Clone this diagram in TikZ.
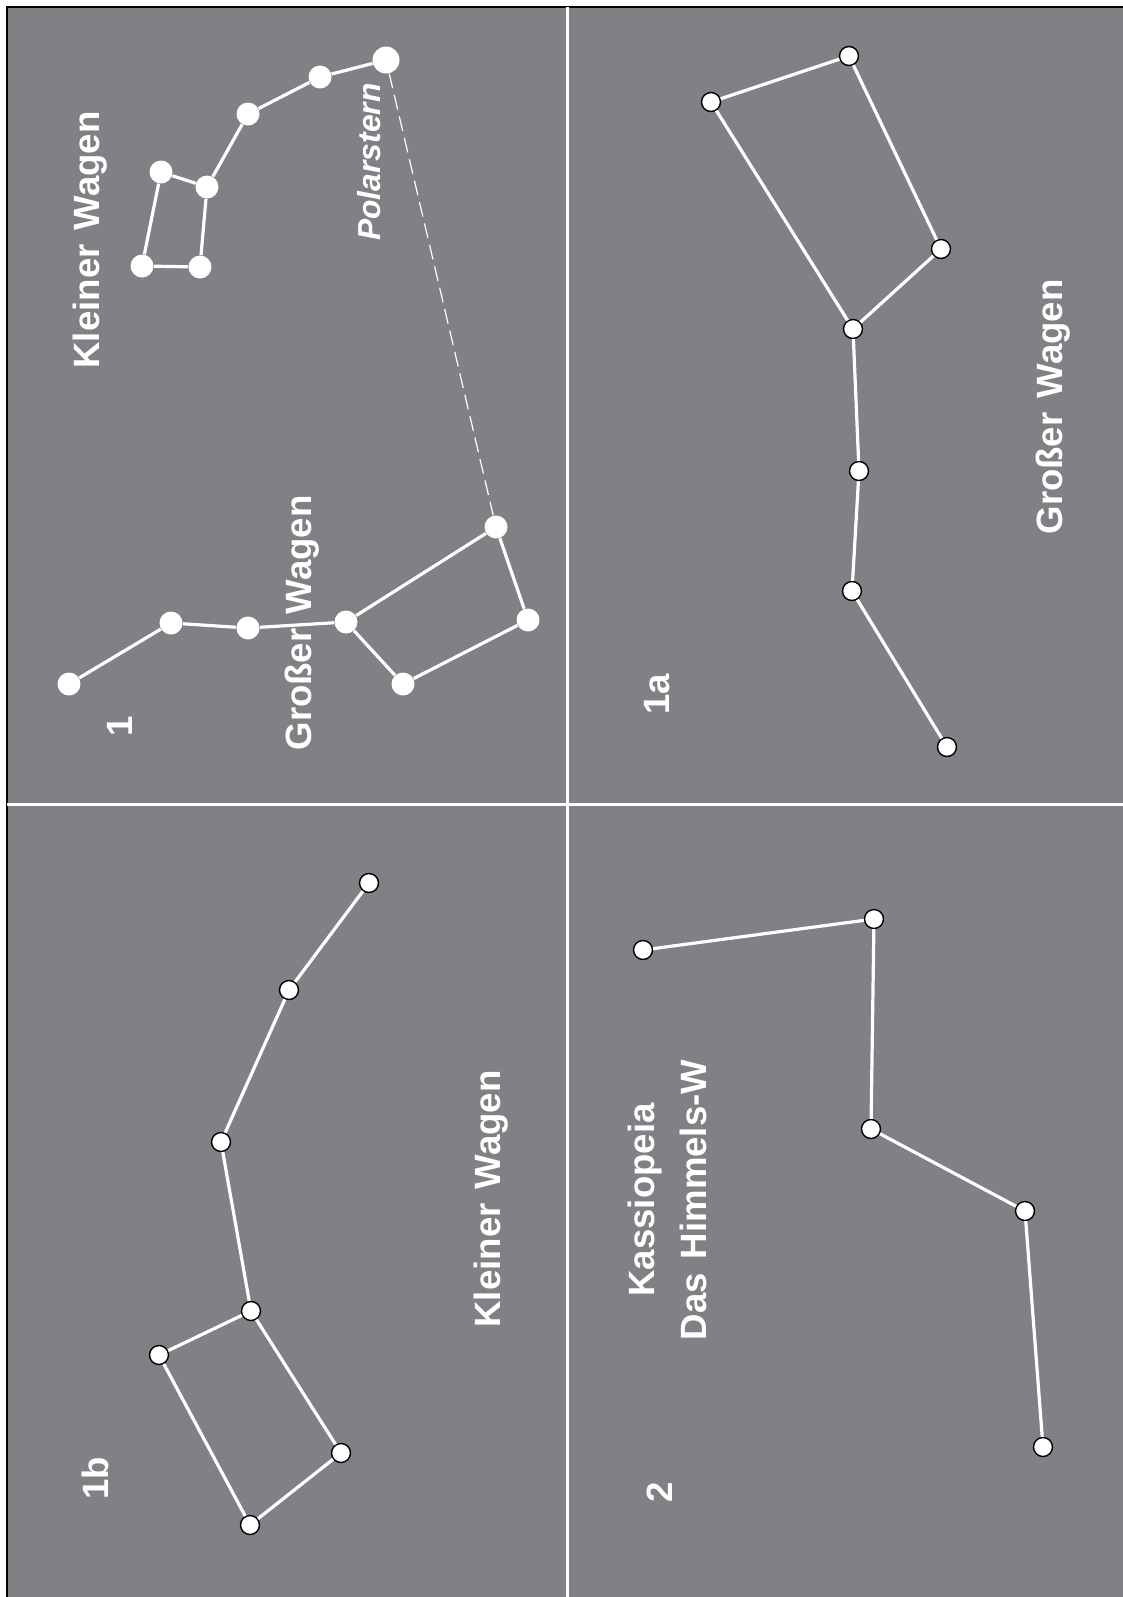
\documentclass[tikz,border=0pt]{standalone}
\usepackage{fontspec}
\setmainfont{Liberation Sans}[WordSpace=1.4]
\definecolor{skygray}{RGB}{128,129,132}
\begin{document}
\begin{tikzpicture}[x=0.5pt,y=-0.5pt,
  dot/.style={circle,fill=white,inner sep=0pt,minimum size=11.5pt},
  pole/.style={dot,minimum size=13.5pt},
  ring/.style={circle,fill=white,draw=black,line width=0.7pt,inner sep=0pt,minimum size=9.5pt},
  link/.style={white,line width=1.6pt},
  guide/.style={white,line width=0.6pt,dash pattern=on 7.5pt off 3.5pt},
  caption/.style={rotate=90,text=white,align=center,font=\bfseries\fontsize{18.3}{26}\selectfont}]
\useasboundingbox (0,0) rectangle (1123,1597);
\fill[skygray] (7,7) rectangle (1123,1597);
\draw[line width=0.8pt] (7,1597) -- (7,7) -- (1123,7);
\draw[white,line width=1.5pt] (567,7) -- (567,1597);
\draw[white,line width=1.5pt] (7,804) -- (1123,804);
% 1: Grosser und Kleiner Wagen
\node[dot] (a1) at (69,684) {};
\node[dot] (a2) at (171,623) {};
\node[dot] (a3) at (248,628) {};
\node[dot] (a4) at (346,622) {};
\node[dot] (a5) at (403,684) {};
\node[dot] (a6) at (528,620) {};
\node[dot] (a7) at (496,527) {};
\node[pole] (p) at (386,60) {};
\node[dot] (b2) at (320,77) {};
\node[dot] (b3) at (248,114) {};
\node[dot] (b4) at (207,187) {};
\node[dot] (b5) at (161,172) {};
\node[dot] (b6) at (142,266) {};
\node[dot] (b7) at (200,267) {};
\draw[link] (a1) -- (a2) -- (a3) -- (a4) -- (a5) -- (a6) -- (a7) -- (a4);
\draw[link] (p) -- (b2) -- (b3) -- (b4) -- (b5) -- (b6) -- (b7) -- (b4);
\draw[guide] (p) -- (a7);
\node[caption] (t1) at (120,726) {1};
\node[caption] (gw1) at (302,623) {Großer Wagen};
\node[caption] (kw1) at (90,240) {Kleiner Wagen};
\node[caption,font=\bfseries\itshape\fontsize{15.9}{20}\selectfont] (ps) at (369,162) {Polarstern};
% 1a: Grosser Wagen
\node[ring] (c1) at (849,56) {};
\node[ring] (c2) at (711,102) {};
\node[ring] (c3) at (941,249) {};
\node[ring] (c4) at (853,329) {};
\node[ring] (c5) at (859,471) {};
\node[ring] (c6) at (852,591) {};
\node[ring] (c7) at (947,747) {};
\draw[link] (c7) -- (c6) -- (c5) -- (c4) -- (c2) -- (c1) -- (c3) -- (c4);
\node[caption] (t1a) at (657,694) {1a};
\node[caption] (gw1a) at (1053,407) {Großer Wagen};
% 1b: Kleiner Wagen
\node[ring] (d1) at (369,883) {};
\node[ring] (d2) at (289,990) {};
\node[ring] (d3) at (221,1142) {};
\node[ring] (d4) at (251,1311) {};
\node[ring] (d5) at (159,1355) {};
\node[ring] (d6) at (250,1525) {};
\node[ring] (d7) at (341,1453) {};
\draw[link] (d1) -- (d2) -- (d3) -- (d4) -- (d5) -- (d6) -- (d7) -- (d4);
\node[caption] (t1b) at (95,1478) {1b};
\node[caption] (kw1b) at (491,1199) {Kleiner Wagen};
% 2: Kassiopeia
\node[ring] (e1) at (643,950) {};
\node[ring] (e2) at (874,919) {};
\node[ring] (e3) at (871,1129) {};
\node[ring] (e4) at (1025,1211) {};
\node[ring] (e5) at (1043,1447) {};
\draw[link] (e1) -- (e2) -- (e3) -- (e4) -- (e5);
\node[caption] (t2) at (660,1492) {2};
\node[caption] (ks) at (667,1200) {Kassiopeia\\Das Himmels-W};
\end{tikzpicture}
\end{document}
